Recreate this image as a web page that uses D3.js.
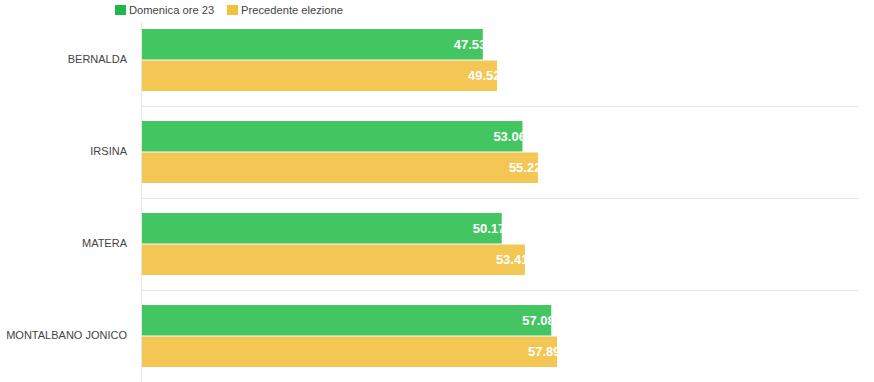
<!DOCTYPE html>
<html><head><meta charset="utf-8">
<script src="https://cdn.jsdelivr.net/npm/d3@7"></script>
<style>body{margin:0;background:#fff;}svg{display:block;font-family:"Liberation Sans",Arial,sans-serif;}</style>
</head><body><svg id="c" width="874" height="382"></svg>
<script>
const categories = ["BERNALDA","IRSINA","MATERA","MONTALBANO JONICO"];
const seriesNames = ["Domenica ore 23","Precedente elezione"];
const current = [47.53, 53.06, 50.17, 57.08];
const previous = [49.52, 55.22, 53.41, 57.89];
const barColors = ["#43c561","#f4c653"];
const legendColors = ["#20b84a","#f3c03a"];

const svg = d3.select("#c");
const mLeft = 142, mRight = 859, mTop = 13.5, mBottom = 381.5;
const x = d3.scaleLinear().domain([0,100]).range([mLeft,mRight]);
const y = d3.scaleBand().domain(categories).range([mTop,mBottom]);
const inner = d3.scaleBand().domain([0,1]).range([15.5, y.bandwidth()-14.5]).paddingInner(2/62);

// grid lines between categories
svg.append("g").selectAll("line").data(categories.slice(1)).join("line")
  .attr("x1",mLeft).attr("x2",mRight)
  .attr("y1",d=>Math.round(y(d))+0.5).attr("y2",d=>Math.round(y(d))+0.5)
  .attr("stroke","#e6e6e6").attr("stroke-width",1);

// left axis line
svg.append("line").attr("x1",mLeft-0.5).attr("x2",mLeft-0.5).attr("y1",22).attr("y2",mBottom+1)
  .attr("stroke","#e6e6e6");

// category labels
const yAxis = d3.axisLeft(y).tickSize(0).tickPadding(15);
const ga = svg.append("g").attr("transform",`translate(${mLeft},0)`).call(yAxis);
ga.select(".domain").remove();
ga.selectAll("text").attr("font-size","11px").attr("fill","#444")
  .attr("font-family","'Liberation Sans',Arial,sans-serif");

const data = [];
categories.forEach((c,i)=>{
  [current[i],previous[i]].forEach((v,s)=>data.push({c,s,v,i}));
});
const defs = svg.append("defs");
data.forEach((d,k)=>{
  defs.append("clipPath").attr("id","clip"+k).append("rect")
    .attr("x",x(0)).attr("y",y(d.c)+inner(d.s))
    .attr("width",x(d.v)-x(0)).attr("height",inner.bandwidth());
});
const gb = svg.append("g");
gb.selectAll("rect").data(data).join("rect")
  .attr("x",x(0)).attr("y",d=>y(d.c)+inner(d.s))
  .attr("width",d=>x(d.v)-x(0)).attr("height",inner.bandwidth())
  .attr("fill",d=>barColors[d.s]);
gb.selectAll("text").data(data).join("text")
  .attr("clip-path",(d,k)=>`url(#clip${k})`)
  .attr("x",d=>x(d.v)+3.5).attr("y",d=>y(d.c)+inner(d.s)+inner.bandwidth()/2)
  .attr("dy","0.36em").attr("text-anchor","end")
  .attr("font-size","13px").attr("font-weight","bold").attr("fill","#fff")
  .text(d=>d.v.toFixed(2));

// legend
const lg = svg.append("g");
const lx = [115,227];
seriesNames.forEach((n,s)=>{
  lg.append("rect").attr("x",lx[s]).attr("y",5).attr("width",11).attr("height",10).attr("fill",legendColors[s]);
  lg.append("text").attr("x",lx[s]+14).attr("y",10).attr("dy","0.36em")
    .attr("font-size","11.2px").attr("fill","#444").text(n);
});
</script></body></html>
